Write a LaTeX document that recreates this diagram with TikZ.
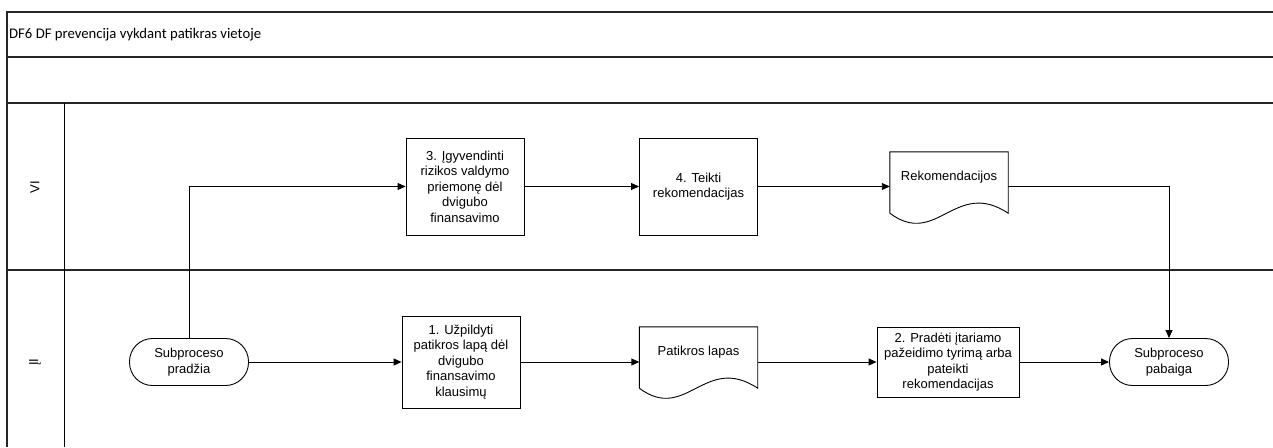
\documentclass[tikz,border=0pt]{standalone}
\usepackage{fontspec}
\setmainfont{Liberation Sans}
\newfontfamily\calibri{Carlito}
\usetikzlibrary{arrows.meta}

\tikzset{
    lane/.style={line width=1.4pt, draw=black!85},
    task/.style={draw, line width=0.9pt, align=center, minimum width=118pt, inner sep=2pt,
        font=\fontsize{13}{15.5}\selectfont},
    term/.style={draw, line width=0.9pt, rounded corners=23pt, align=center,
        minimum width=119pt, minimum height=47pt, font=\fontsize{13}{15.5}\selectfont},
    paper/.style={align=center, minimum width=118pt, minimum height=61pt, text depth=13pt,
        font=\fontsize{13}{15.5}\selectfont},
    flow/.style={line width=0.9pt, -{Triangle[length=8pt,width=7pt]}}
}

% document outline with wavy bottom
\newcommand\papershape[1]{%
    \draw[line width=0.9pt] (#1.south west) -- (#1.north west) -- (#1.north east) -- (#1.south east)
        .. controls ([xshift=-53pt,yshift=35pt]#1.south east) and ([xshift=47pt,yshift=-35pt]#1.south west) .. (#1.south west);}

\begin{document}
\begin{tikzpicture}[x=1pt, y=-1pt]
    \useasboundingbox (0, 0) rectangle (1273, 447);

    \draw[lane] (7, 447) -- (7, 12) -- (1273, 12);
    \draw[lane] (7, 57) -- (1273, 57);
    \draw[lane] (7, 103) -- (1273, 103);
    \draw[lane] (7, 270) -- (1273, 270);
    \draw[line width=1pt] (64, 103) -- (64, 447);

    \node[anchor=west, inner sep=0, font=\calibri\fontsize{14.7}{17}\selectfont] (title) at (9, 35) {DF6 DF prevencija vykdant patikras vietoje};

    \node[rotate=90, font=\fontsize{13}{15.5}\selectfont] (vi) at (35, 187) {VI};
    \node[rotate=90, font=\fontsize{13}{15.5}\selectfont] (ii) at (35, 362) {ĮI};

    % VI lane
    \node[task, minimum height=97pt] (box3) at (465, 186.5) {3. Įgyvendinti\\rizikos valdymo\\priemonę dėl\\dvigubo\\finansavimo};
    \node[task, minimum height=97pt] (box4) at (698.5, 186.5) {4. Teikti\\rekomendacijas};
    \node[paper] (rek) at (949, 182.5) {Rekomendacijos};
    \papershape{rek}

    % IJ lane
    \node[term] (pradzia) at (189, 362) {Subproceso\\pradžia};
    \node[task, minimum height=92pt] (box1) at (461, 362) {1. Užpildyti\\patikros lapą dėl\\dvigubo\\finansavimo\\klausimų};
    \node[paper] (lapas) at (698.5, 357.5) {Patikros lapas};
    \papershape{lapas}
    \node[task, minimum width=142pt, minimum height=70pt] (box2) at (948, 362) {2. Pradėti įtariamo\\pažeidimo tyrimą arba\\pateikti\\rekomendacijas};
    \node[term] (pabaiga) at (1169, 362) {Subproceso\\pabaiga};

    \draw[flow] (pradzia.north) |- (box3.west);
    \draw[flow] (box3.east) -- (box4.west);
    \draw[flow] (box4.east) -- (box4.east -| rek.west);
    \draw[flow] (rek.east |- box4.east) -| (pabaiga.north);

    \draw[flow] (pradzia.east) -- (box1.west);
    \draw[flow] (box1.east) -- (box1.east -| lapas.west);
    \draw[flow] (lapas.east |- box2.west) -- (box2.west);
    \draw[flow] (box2.east) -- (pabaiga.west);
\end{tikzpicture}
\end{document}
